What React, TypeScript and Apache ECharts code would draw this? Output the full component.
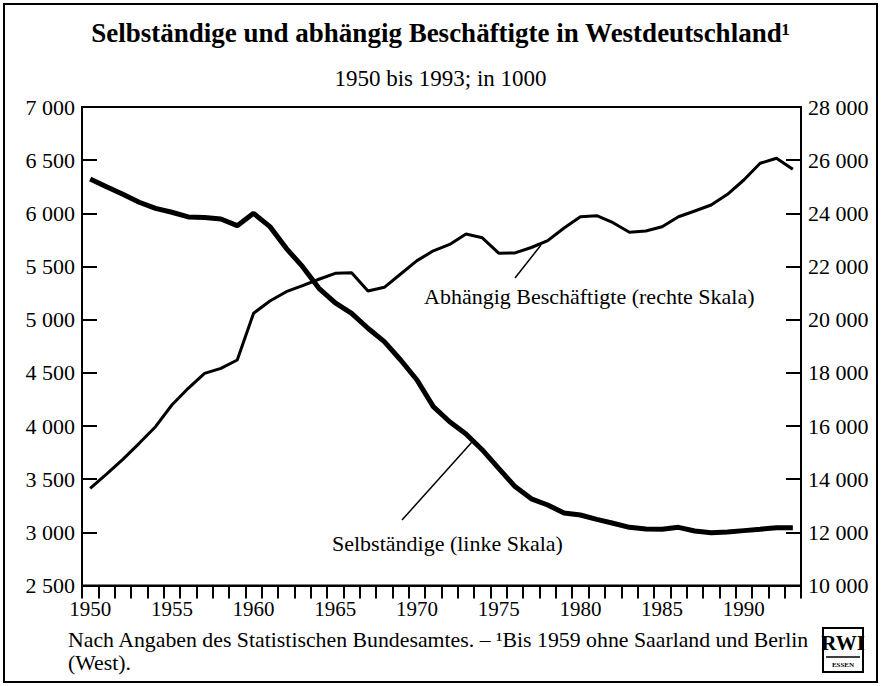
import React, { useEffect, useRef } from "react";
import * as echarts from "echarts";

const years = [
  "1950", "1951", "1952", "1953", "1954", "1955", "1956", "1957", "1958", "1959",
  "1960", "1961", "1962", "1963", "1964", "1965", "1966", "1967", "1968", "1969",
  "1970", "1971", "1972", "1973", "1974", "1975", "1976", "1977", "1978", "1979",
  "1980", "1981", "1982", "1983", "1984", "1985", "1986", "1987", "1988", "1989",
  "1990", "1991", "1992", "1993",
];

// Selbständige, linke Skala (in 1000)
const selbstaendige = [
  6323, 6250, 6179, 6104, 6047, 6010, 5966, 5960, 5947, 5884,
  6000, 5875, 5671, 5498, 5295, 5157, 5060, 4919, 4793, 4621,
  4433, 4182, 4040, 3925, 3775, 3602, 3430, 3315, 3257, 3182,
  3163, 3122, 3085, 3047, 3032, 3029, 3047, 3013, 2997, 3003,
  3016, 3029, 3044, 3044,
];

// Abhängig Beschäftigte, rechte Skala (in 1000)
const abhaengig = [
  13656, 14194, 14746, 15349, 15974, 16790, 17418, 17982, 18170, 18483,
  20239, 20700, 21052, 21278, 21520, 21744, 21769, 21078, 21217, 21718,
  22220, 22590, 22830, 23223, 23080, 22500, 22510, 22715, 22971, 23450,
  23873, 23911, 23648, 23286, 23335, 23498, 23873, 24088, 24314, 24716,
  25254, 25882, 26070, 25656,
];

const leftScale = { min: 2500, max: 7000, interval: 500 };
const rightScale = { min: 10000, max: 28000, interval: 2000 };

const titleText = "Selbständige und abhängig Beschäftigte in Westdeutschland¹";
const subtitleText = "1950 bis 1993; in 1000";
const labelAbh = "Abhängig Beschäftigte (rechte Skala)";
const labelSelb = "Selbständige (linke Skala)";
const footLine1 = "Nach Angaben des Statistischen Bundesamtes. – ¹Bis 1959 ohne Saarland und Berlin";
const footLine2 = "(West).";

const FONT = "'Liberation Serif', 'Times New Roman', serif";

const fmt = (v: number) => String(v).replace(/\B(?=(\d{3})+(?!\d))/g, " ");

export default function App() {
  const ref = useRef<HTMLDivElement>(null);

  useEffect(() => {
    if (!ref.current) return;
    const chart = echarts.init(ref.current, undefined, { renderer: "svg" });
    const axisCommon = {
      axisLine: { show: true, lineStyle: { color: "#000", width: 2 } },
      splitLine: { show: false },
    };
    const txt = (text: string, x: number, y: number, size = 22) => ({
      type: "text",
      x,
      y,
      style: { text, fontFamily: FONT, fontSize: size, fill: "#000", textVerticalAlign: "middle" },
    });
    chart.setOption({
      animation: false,
      backgroundColor: "#fff",
      textStyle: { fontFamily: FONT, color: "#000" },
      title: [
        {
          text: titleText,
          left: "center",
          top: 14,
          textStyle: { fontFamily: FONT, fontSize: 27, fontWeight: "bold", color: "#000" },
        },
        {
          text: subtitleText,
          left: "center",
          top: 62,
          textStyle: { fontFamily: FONT, fontSize: 23, fontWeight: "normal", color: "#000" },
        },
      ],
      grid: {
        left: 82,
        right: 80,
        top: 107,
        height: 478.5,
        show: true,
        borderColor: "#000",
        borderWidth: 2,
        backgroundColor: "transparent",
      },
      xAxis: {
        type: "category",
        data: years,
        boundaryGap: true,
        ...axisCommon,
        axisTick: { show: true, interval: 0, length: 13, lineStyle: { color: "#000", width: 2 } },
        axisLabel: {
          interval: (i: number) => i % 5 === 0,
          margin: 13,
          fontSize: 21,
          color: "#000",
          fontFamily: FONT,
        },
      },
      yAxis: [
        {
          type: "value",
          position: "left",
          ...leftScale,
          ...axisCommon,
          axisTick: { show: true, inside: true, length: 15, lineStyle: { color: "#000", width: 2 } },
          axisLabel: { formatter: fmt, margin: 7, fontSize: 22, color: "#000", fontFamily: FONT },
        },
        {
          type: "value",
          position: "right",
          ...rightScale,
          ...axisCommon,
          axisTick: { show: true, inside: true, length: 15, lineStyle: { color: "#000", width: 2 } },
          axisLabel: { formatter: fmt, margin: 7, fontSize: 22, color: "#000", fontFamily: FONT },
        },
      ],
      series: [
        {
          name: "Selbständige",
          type: "line",
          data: selbstaendige,
          yAxisIndex: 0,
          symbol: "none",
          lineStyle: { color: "#000", width: 5 },
          z: 3,
        },
        {
          name: "Abhängig Beschäftigte",
          type: "line",
          data: abhaengig,
          yAxisIndex: 1,
          symbol: "none",
          lineStyle: { color: "#000", width: 3 },
          z: 2,
        },
      ],
      graphic: [
        {
          type: "rect",
          shape: { x: 4, y: 4, width: 873, height: 678 },
          style: { fill: "none", stroke: "#000", lineWidth: 2 },
          silent: true,
        },
        {
          type: "line",
          shape: { x1: 515, y1: 278, x2: 541, y2: 245 },
          style: { stroke: "#000", lineWidth: 1.5 },
        },
        {
          type: "line",
          shape: { x1: 402, y1: 520, x2: 472, y2: 442 },
          style: { stroke: "#000", lineWidth: 1.5 },
        },
        txt(labelAbh, 424, 296),
        txt(labelSelb, 332, 543),
        txt(footLine1, 68, 640, 21.8),
        txt(footLine2, 68, 663, 21.8),
        {
          type: "group",
          children: [
            {
              type: "rect",
              shape: { x: 823, y: 628, width: 40, height: 44 },
              style: { fill: "#fff", stroke: "#000", lineWidth: 2 },
            },
            {
              type: "text",
              x: 843,
              y: 643,
              style: {
                text: "RWI",
                fontFamily: FONT,
                fontSize: 21,
                fontWeight: "bold",
                fill: "#000",
                textAlign: "center",
                textVerticalAlign: "middle",
              },
            },
            {
              type: "line",
              shape: { x1: 826, y1: 657, x2: 860, y2: 657 },
              style: { stroke: "#000", lineWidth: 1.5 },
            },
            {
              type: "text",
              x: 843,
              y: 665,
              style: {
                text: "ESSEN",
                fontFamily: FONT,
                fontSize: 7,
                fontWeight: "bold",
                fill: "#000",
                textAlign: "center",
                textVerticalAlign: "middle",
              },
            },
          ],
        },
      ],
    });
    return () => chart.dispose();
  }, []);

  return (
    <div
      ref={ref}
      style={{ position: "fixed", left: 0, top: 0, width: 881, height: 686, background: "#fff" }}
    />
  );
}
